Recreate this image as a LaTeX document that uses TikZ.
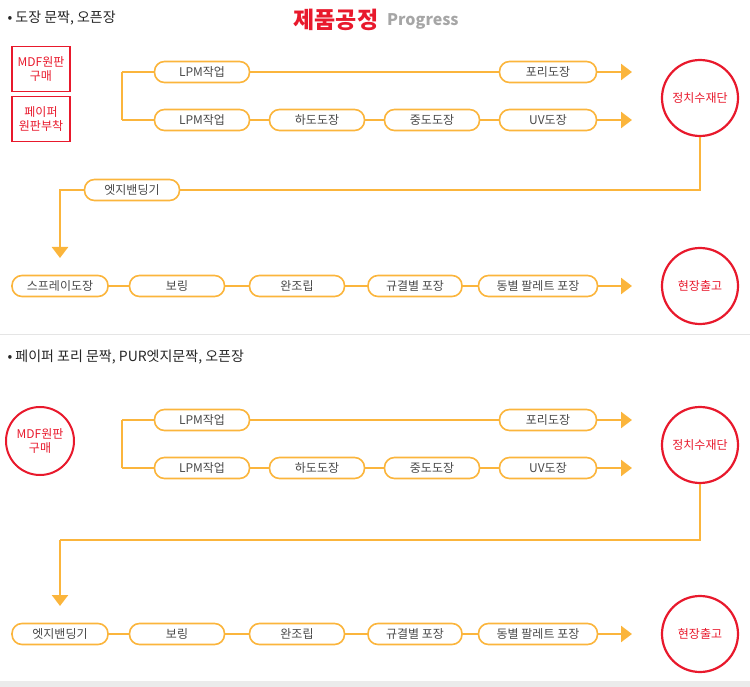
\documentclass[tikz,border=0pt]{standalone}
\usepackage{fontspec}
\setmainfont{Noto Sans CJK KR}
\usetikzlibrary{positioning, arrows.meta}
\definecolor{flow}{HTML}{FBB53C}
\definecolor{mark}{HTML}{E8192C}
\definecolor{ink}{HTML}{4A4A4A}
\begin{document}
\begin{tikzpicture}[x=1pt, y=-1pt,
  flowline/.style={flow, line width=2.5pt},
  arrowline/.style={flowline, -{Triangle[length=11pt,width=16pt]}},
  pill/.style={draw=flow, line width=1.6pt, fill=white, rounded corners=10pt, minimum height=21pt, text=ink, font=\fontsize{12}{13}\selectfont, inner sep=2pt},
  redbox/.style={draw=mark, line width=1.6pt, text=mark, align=center, font=\fontsize{12}{14}\selectfont, minimum width=58pt, minimum height=45pt},
  endpoint/.style={circle, draw=mark, line width=2.2pt, text=mark, minimum size=76pt, font=\fontsize{12}{13}\selectfont},
  heading/.style={anchor=west, text=black!85, font=\fontsize{14}{15}\selectfont},
]
\useasboundingbox (0,0) rectangle (750,687);
\fill[black!8] (0,681) rectangle (750,687);
\draw[black!10] (0,334) -- (750,334);
% titles
\node[heading] (t1) at (4,18) {• 도장 문짝, 오픈장};
\node[anchor=west, text=mark, font=\fontsize{23}{24}\selectfont\bfseries] (title) at (290,20) {제품공정};
\node[anchor=west, text=black!35, font=\fontsize{16}{17}\selectfont\bfseries, right=2pt of title, yshift=-1pt] (sub) {Progress};
\node[heading] (t2) at (4,357) {• 페이퍼 포리 문짝, PUR엣지문짝, 오픈장};

% first process
\node[redbox] (buy) at (41,69) {MDF원판\\구매};
\node[redbox] (paper) at (41,119) {페이퍼\\원판부착};
\coordinate (j1) at (122,72);
\coordinate (j2) at (122,120);
\draw[flowline] (j1) -- (j2);
\node[pill, minimum width=95pt] (a1) at (202,72) {LPM작업};
\node[pill, minimum width=97pt] (a2) at (548,72) {포리도장};
\node[pill, minimum width=95pt] (b1) at (202,120) {LPM작업};
\node[pill, minimum width=95pt] (b2) at (317,120) {하도도장};
\node[pill, minimum width=95pt] (b3) at (432,120) {중도도장};
\node[pill, minimum width=97pt] (b4) at (548,120) {UV도장};
\coordinate (ea) at (632,72);
\coordinate (eb) at (632,120);
\node[endpoint] (cut1) at (700,98) {정치수재단};
\draw[flowline] (j1) -- (a1) (a1) -- (a2);
\draw[arrowline] (a2) -- (ea);
\draw[flowline] (j2) -- (b1) (b1) -- (b2) (b2) -- (b3) (b3) -- (b4);
\draw[arrowline] (b4) -- (eb);

\node[pill, minimum width=95pt] (edge1) at (132,190) {엣지밴딩기};
\coordinate (d1) at (60,258);
\draw[flowline] (cut1.south) |- (edge1.east);
\draw[arrowline] (edge1.west) -| (d1);

\node[pill, minimum width=96pt] (c1) at (60,286) {스프레이도장};
\node[pill, minimum width=95pt] (c2) at (177,286) {보링};
\node[pill, minimum width=95pt] (c3) at (297,286) {완조립};
\node[pill, minimum width=94pt] (c4) at (415,286) {규결별 포장};
\node[pill, minimum width=119pt] (c5) at (538,286) {동별 팔레트 포장};
\coordinate (ec) at (632,286);
\node[endpoint] (out1) at (700,286) {현장출고};
\draw[flowline] (c1) -- (c2) (c2) -- (c3) (c3) -- (c4) (c4) -- (c5);
\draw[arrowline] (c5) -- (ec);

% second process
\node[endpoint, minimum size=68pt, line width=2pt, align=center, font=\fontsize{12}{14}\selectfont] (buy2) at (40,441) {MDF원판\\구매};
\coordinate (k1) at (122,420);
\coordinate (k2) at (122,468);
\draw[flowline] (k1) -- (k2);
\node[pill, minimum width=95pt] (p1) at (202,420) {LPM작업};
\node[pill, minimum width=97pt] (p2) at (548,420) {포리도장};
\node[pill, minimum width=95pt] (q1) at (202,468) {LPM작업};
\node[pill, minimum width=95pt] (q2) at (317,468) {하도도장};
\node[pill, minimum width=95pt] (q3) at (432,468) {중도도장};
\node[pill, minimum width=97pt] (q4) at (548,468) {UV도장};
\coordinate (ep) at (632,420);
\coordinate (eq) at (632,468);
\node[endpoint] (cut2) at (700,445) {정치수재단};
\draw[flowline] (k1) -- (p1) (p1) -- (p2);
\draw[arrowline] (p2) -- (ep);
\draw[flowline] (k2) -- (q1) (q1) -- (q2) (q2) -- (q3) (q3) -- (q4);
\draw[arrowline] (q4) -- (eq);

\coordinate (bend) at (60,540);
\coordinate (d2) at (60,606);
\draw[flowline] (cut2.south) |- (bend);
\draw[arrowline] (bend) -- (d2);

\node[pill, minimum width=96pt] (r1) at (60,634) {엣지밴딩기};
\node[pill, minimum width=95pt] (r2) at (177,634) {보링};
\node[pill, minimum width=95pt] (r3) at (297,634) {완조립};
\node[pill, minimum width=94pt] (r4) at (415,634) {규결별 포장};
\node[pill, minimum width=119pt] (r5) at (538,634) {동별 팔레트 포장};
\coordinate (er) at (632,634);
\node[endpoint] (out2) at (700,634) {현장출고};
\draw[flowline] (r1) -- (r2) (r2) -- (r3) (r3) -- (r4) (r4) -- (r5);
\draw[arrowline] (r5) -- (er);
\end{tikzpicture}
\end{document}
